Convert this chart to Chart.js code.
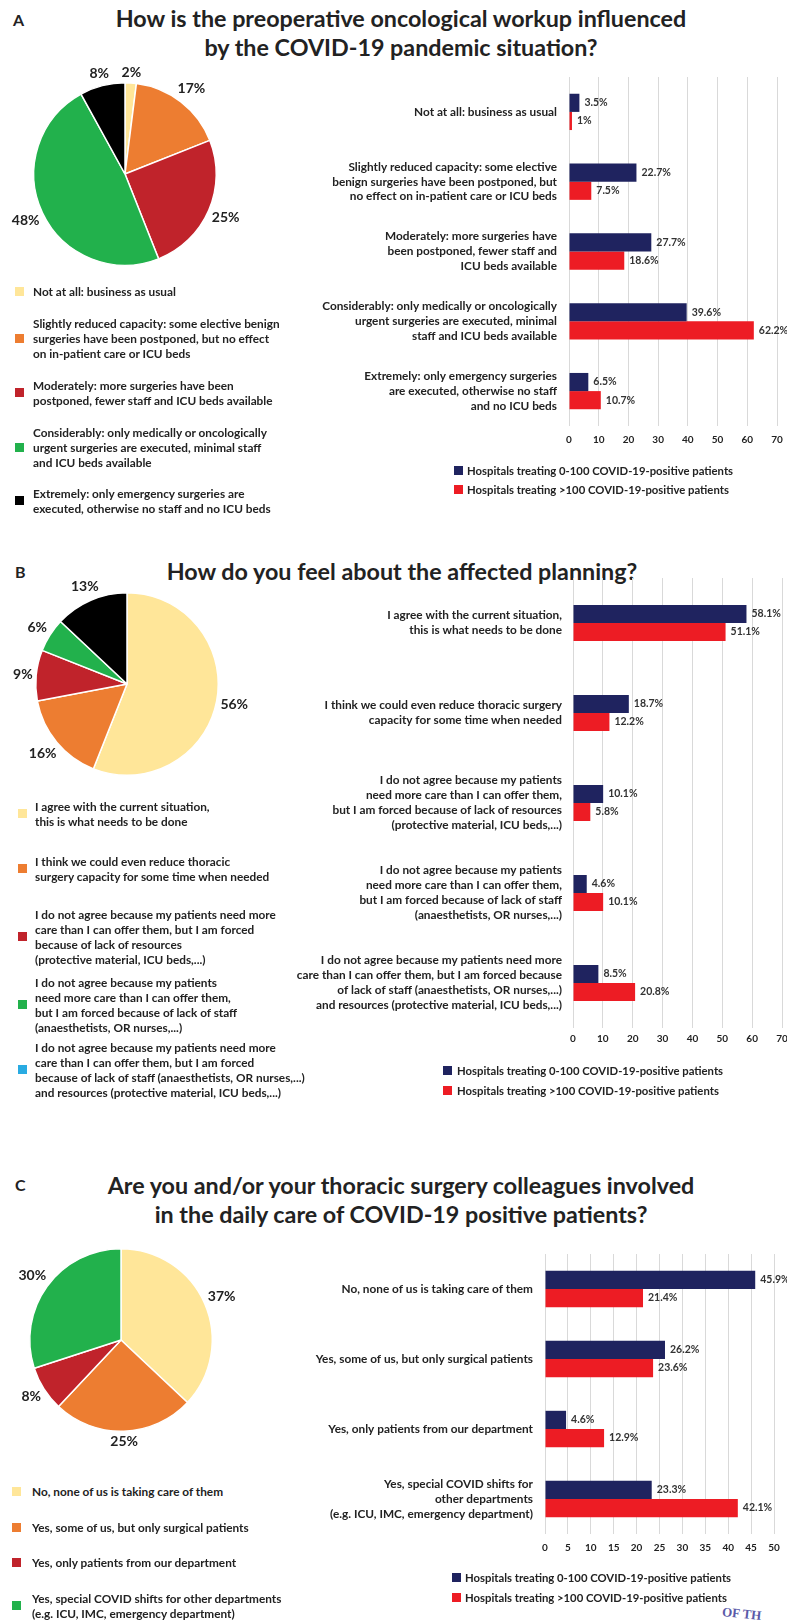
<!DOCTYPE html>
<html>
<head>
<meta charset="utf-8">
<script src="https://cdn.jsdelivr.net/npm/chart.js@4.4.0/dist/chart.umd.min.js"></script>
<style>
  body { margin: 0; background: #fff; }
  #page { position: relative; width: 787px; height: 1620px; overflow: hidden; font-family: Lato, sans-serif; color: #222; font-weight: bold; }
  .abs { position: absolute; }
  .letter { font-size: 16px; line-height: 20px; }
  .title { font-size: 23.3px; line-height: 29px; text-align: center; width: 800px; white-space: nowrap; }
  .leg { position: absolute; display: flex; align-items: center; font-size: 11.8px; line-height: 15px; white-space: nowrap; }
  .leg.small { font-size: 11.3px; }
  .leg .sq { width: 9px; height: 9px; flex: none; }
  canvas { position: absolute; }
  .mark { font-family: "Liberation Serif", serif; font-size: 13px; color: #5a5aa8; transform: rotate(6deg); }
</style>
</head>
<body>
<div id="page">
  <div class="abs letter" style="left:13px;top:10px">A</div>
  <div class="abs title" style="left:1px;top:4px">How is the preoperative oncological workup influenced<br>by the COVID-19 pandemic situation?</div>
  <div class="abs letter" style="left:15px;top:562px">B</div>
  <div class="abs title" style="left:2px;top:557px">How do you feel about the affected planning?</div>
  <div class="abs letter" style="left:15px;top:1175px">C</div>
  <div class="abs title" style="left:1px;top:1171px">Are you and/or your thoracic surgery colleagues involved<br>in the daily care of COVID-19 positive patients?</div>

  <canvas id="pieA" width="260" height="260" style="left:-5px;top:44px"></canvas>
  <canvas id="pieB" width="260" height="260" style="left:-3px;top:554px"></canvas>
  <canvas id="pieC" width="260" height="260" style="left:-9px;top:1210px"></canvas>

  <canvas id="barA" width="537" height="400" style="left:250px;top:60px"></canvas>
  <canvas id="barB" width="537" height="500" style="left:250px;top:560px"></canvas>
  <canvas id="barC" width="537" height="330" style="left:250px;top:1240px"></canvas>

  <div class="abs mark" style="left:722px;top:1606px">OF TH</div>
</div>

<script>
// colours
const pieColors = ['#ffe699', '#ed7d31', '#c0232b', '#22b14c', '#000000'];
const legendColorsB = ['#ffe699', '#ed7d31', '#c0232b', '#22b14c', '#29abe2'];
const navy = '#1f235f';
const red = '#ed1c24';
const seriesNames = ['Hospitals treating 0-100 COVID-19-positive patients',
                     'Hospitals treating >100 COVID-19-positive patients'];

// panel A
const pieA = [2, 17, 25, 48, 8];
const legendA = [
  ['Not at all: business as usual'],
  ['Slightly reduced capacity: some elective benign', 'surgeries have been postponed, but no effect', 'on in-patient care or ICU beds'],
  ['Moderately: more surgeries have been', 'postponed, fewer staff and ICU beds available'],
  ['Considerably: only medically or oncologically', 'urgent surgeries are executed, minimal staff', 'and ICU beds available'],
  ['Extremely: only emergency surgeries are', 'executed, otherwise no staff and no ICU beds']
];
const catsA = [
  ['Not at all: business as usual'],
  ['Slightly reduced capacity: some elective', 'benign surgeries have been postponed, but', 'no effect on in-patient care or ICU beds'],
  ['Moderately: more surgeries have', 'been postponed, fewer staff and', 'ICU beds available'],
  ['Considerably: only medically or oncologically', 'urgent surgeries are executed, minimal', 'staff and ICU beds available'],
  ['Extremely: only emergency surgeries', 'are executed, otherwise no staff', 'and no ICU beds']
];
const lowA = [3.5, 22.7, 27.7, 39.6, 6.5];
const highA = [1, 7.5, 18.6, 62.2, 10.7];
const xMaxA = 70, xStepA = 10;

// panel B
const pieB = [56, 16, 9, 6, 13];
const legendB = [
  ['I agree with the current situation,', 'this is what needs to be done'],
  ['I think we could even reduce thoracic', 'surgery capacity for some time when needed'],
  ['I do not agree because my patients need more', 'care than I can offer them, but I am forced', 'because of lack of resources', '(protective material, ICU beds,...)'],
  ['I do not agree because my patients', 'need more care than I can offer them,', 'but I am forced because of lack of staff', '(anaesthetists, OR nurses,...)'],
  ['I do not agree because my patients need more', 'care than I can offer them, but I am forced', 'because of lack of staff (anaesthetists, OR nurses,...)', 'and resources (protective material, ICU beds,...)']
];
const catsB = [
  ['I agree with the current situation,', 'this is what needs to be done'],
  ['I think we could even reduce thoracic surgery', 'capacity for some time when needed'],
  ['I do not agree because my patients', 'need more care than I can offer them,', 'but I am forced because of lack of resources', '(protective material, ICU beds,...)'],
  ['I do not agree because my patients', 'need more care than I can offer them,', 'but I am forced because of lack of staff', '(anaesthetists, OR nurses,...)'],
  ['I do not agree because my patients need more', 'care than I can offer them, but I am forced because', 'of lack of staff (anaesthetists, OR nurses,...)', 'and resources (protective material, ICU beds,...)']
];
const lowB = [58.1, 18.7, 10.1, 4.6, 8.5];
const highB = [51.1, 12.2, 5.8, 10.1, 20.8];
const xMaxB = 70, xStepB = 10;

// panel C
const pieC = [37, 25, 8, 30];
const legendC = [
  ['No, none of us is taking care of them'],
  ['Yes, some of us, but only surgical patients'],
  ['Yes, only patients from our department'],
  ['Yes, special COVID shifts for other departments', '(e.g. ICU, IMC, emergency department)']
];
const catsC = [
  ['No, none of us is taking care of them'],
  ['Yes, some of us, but only surgical patients'],
  ['Yes, only patients from our department'],
  ['Yes, special COVID shifts for', 'other departments', '(e.g. ICU, IMC, emergency department)']
];
const lowC = [45.9, 26.2, 4.6, 23.3];
const highC = [21.4, 23.6, 12.9, 42.1];
const xMaxC = 50, xStepC = 5;

Chart.defaults.font.family = 'Lato, sans-serif';
Chart.defaults.color = '#222';

const page = document.getElementById('page');

function addLegend(items, colors, sqLeft, textLeft, firstLineY, cls) {
  items.forEach((lines, i) => {
    const d = document.createElement('div');
    d.className = 'leg' + (cls ? ' ' + cls : '');
    d.style.left = sqLeft + 'px';
    d.style.top = (firstLineY[i] - 7.5) + 'px';
    const sq = document.createElement('div');
    sq.className = 'sq';
    sq.style.background = colors[i];
    sq.style.marginRight = (textLeft - sqLeft - 9) + 'px';
    const t = document.createElement('div');
    t.innerHTML = lines.join('<br>');
    d.appendChild(sq);
    d.appendChild(t);
    page.appendChild(d);
  });
}

// pie labels outside each slice
const pieLabels = {
  id: 'pieLabels',
  afterDatasetsDraw(chart) {
    const ctx = chart.ctx;
    const ds = chart.data.datasets[0];
    ctx.save();
    ctx.font = 'bold 14px Lato';
    ctx.fillStyle = '#222';
    ctx.textAlign = 'center';
    ctx.textBaseline = 'middle';
    chart.getDatasetMeta(0).data.forEach((arc, i) => {
      const txt = ds.data[i] + '%';
      const w = ctx.measureText(txt).width;
      const a = (arc.startAngle + arc.endAngle) / 2;
      const c = Math.cos(a), s = Math.sin(a);
      const r = arc.outerRadius + 3 + Math.abs(c) * w / 2 + Math.abs(s) * 7;
      ctx.fillText(txt, arc.x + c * r, arc.y + s * r);
    });
    ctx.restore();
  }
};

// value labels at end of bars
const barLabels = {
  id: 'barLabels',
  afterDatasetsDraw(chart) {
    const ctx = chart.ctx;
    ctx.save();
    ctx.font = 'bold 10.5px Lato';
    ctx.fillStyle = '#333';
    ctx.textAlign = 'left';
    ctx.textBaseline = 'middle';
    chart.data.datasets.forEach((ds, di) => {
      chart.getDatasetMeta(di).data.forEach((bar, i) => {
        ctx.fillText(ds.data[i] + '%', bar.x + 5, bar.y);
      });
    });
    ctx.restore();
  }
};

function makePie(id, values, colors) {
  new Chart(document.getElementById(id), {
    type: 'pie',
    data: {
      labels: values.map(v => v + '%'),
      datasets: [{ data: values, backgroundColor: colors, borderColor: '#fff', borderWidth: 1.5 }]
    },
    options: {
      responsive: false,
      animation: false,
      layout: { padding: 38 },
      plugins: { legend: { display: false }, tooltip: { enabled: false } }
    },
    plugins: [pieLabels]
  });
}

function makeBars(id, cats, low, high, xMax, xStep, box) {
  new Chart(document.getElementById(id), {
    type: 'bar',
    data: {
      labels: cats,
      datasets: [
        { label: seriesNames[0], data: low, backgroundColor: navy },
        { label: seriesNames[1], data: high, backgroundColor: red }
      ]
    },
    options: {
      indexAxis: 'y',
      responsive: false,
      animation: false,
      layout: { padding: { top: box.top, right: box.right, bottom: 0, left: 0 } },
      datasets: { bar: { categoryPercentage: box.cat, barPercentage: 1 } },
      scales: {
        x: {
          min: 0, max: xMax,
          ticks: { stepSize: xStep, padding: box.tp, autoSkip: false, maxRotation: 0, color: '#222',
                   font: { size: 10, weight: 'bold' } },
          grid: { color: '#d9d9d9', drawTicks: false },
          border: { display: false },
          afterFit(s) { s.height = box.xh; s.paddingLeft = 0; s.paddingRight = 0; }
        },
        y: {
          ticks: { padding: box.pad, autoSkip: false, color: '#222',
                   font: { size: 11.8, weight: 'bold', lineHeight: 1.27 } },
          grid: { display: false, drawTicks: false },
          border: { display: false },
          afterFit(s) { s.width = box.yw; s.paddingTop = 0; s.paddingBottom = 0; }
        }
      },
      plugins: { legend: { display: false }, tooltip: { enabled: false } }
    },
    plugins: [barLabels]
  });
}

makePie('pieA', pieA, pieColors);
makePie('pieB', pieB, pieColors);
makePie('pieC', pieC, pieColors.slice(0, 4));

makeBars('barA', catsA, lowA, highA, xMaxA, xStepA, { top: 17, right: 10, xh: 34, yw: 319, pad: 12, cat: 0.52, tp: 8 });
makeBars('barB', catsB, lowB, highB, xMaxB, xStepB, { top: 18, right: 5, xh: 32, yw: 323, pad: 11, cat: 0.40, tp: 5 });
makeBars('barC', catsC, lowC, highC, xMaxC, xStepC, { top: 14, right: 13, xh: 36, yw: 295, pad: 12, cat: 0.52, tp: 8 });

addLegend(legendA, pieColors, 15, 33, [291, 323, 385, 432, 493]);
addLegend(legendB, legendColorsB, 18, 35, [806, 861, 914, 982, 1047]);
addLegend(legendC, pieColors, 12, 32, [1491, 1527, 1562, 1598]);

addLegend(seriesNames.map(s => [s]), [navy, red], 454, 467, [470, 489], 'small');
addLegend(seriesNames.map(s => [s]), [navy, red], 443, 457, [1070, 1090], 'small');
addLegend(seriesNames.map(s => [s]), [navy, red], 452, 465, [1577, 1597], 'small');
</script>
</body>
</html>
